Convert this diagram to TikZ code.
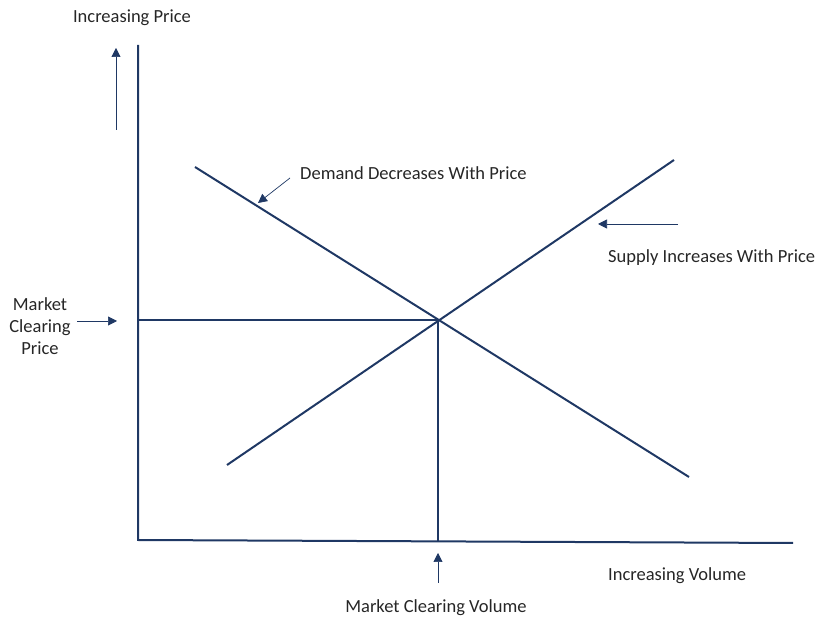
\documentclass[tikz,border=0pt]{standalone}
\usepackage{fontspec}
\setmainfont{Carlito}
\usepackage{tikz}
\usetikzlibrary{arrows.meta}
\definecolor{navy}{HTML}{1F3864}
\definecolor{txtgray}{HTML}{262626}

\begin{document}
\begin{tikzpicture}[x=1pt,y=-1pt, curve/.style={draw=navy,line width=2pt}, pointer/.style={draw=navy,line width=0.7pt,-{Triangle[length=9pt,width=9pt]}}, lbl/.style={text=txtgray,font=\fontsize{18.5}{22}\selectfont,inner sep=0pt}]
    \useasboundingbox (0,0) rectangle (815,617);
    % axes
    \coordinate (o) at (138,540);
    \coordinate (ytop) at (138,45);
    \coordinate (xend) at (793,543);
    \draw[curve] (ytop) -- (o) -- (xend);

    % demand and supply
    \coordinate (d0) at (195,167);
    \coordinate (d1) at (689,477);
    \coordinate (s0) at (227,465);
    \coordinate (s1) at (674,160);
    \coordinate (eq) at (438,320);
    \coordinate (eqx) at (438,541);
    \coordinate (eqy) at (138,320);
    \draw[curve] (d0) -- (d1);
    \draw[curve] (s0) -- (s1);
    \draw[curve] (eqy) -- (eq) -- (eqx);

    % labels
    \node[lbl] (ip) at (132,18) {Increasing Price};
    \node[lbl,anchor=west] (dd) at (300,173) {Demand Decreases With Price};
    \node[lbl,anchor=west] (si) at (608,258) {Supply Increases With Price};
    \node[lbl,align=center] (mcp) at (40,326) {Market\\Clearing\\Price};
    \node[lbl] (mcv) at (436,608) {Market Clearing Volume};
    \node[lbl,anchor=west] (iv) at (608,576) {Increasing Volume};

    % pointers
    \coordinate (ipt) at (116,130);
    \coordinate (iph) at (116,48);
    \coordinate (ddt) at (290,178);
    \coordinate (ddh) at (258,203);
    \coordinate (sit) at (678,224);
    \coordinate (sih) at (598,224);
    \coordinate (mcpt) at (77,321);
    \coordinate (mcph) at (117,321);
    \coordinate (mcvt) at (438,583);
    \coordinate (mcvh) at (438,553);
    \draw[pointer] (ipt) -- (iph);
    \draw[pointer] (ddt) -- (ddh);
    \draw[pointer] (sit) -- (sih);
    \draw[pointer] (mcpt) -- (mcph);
    \draw[pointer] (mcvt) -- (mcvh);
\end{tikzpicture}
\end{document}
